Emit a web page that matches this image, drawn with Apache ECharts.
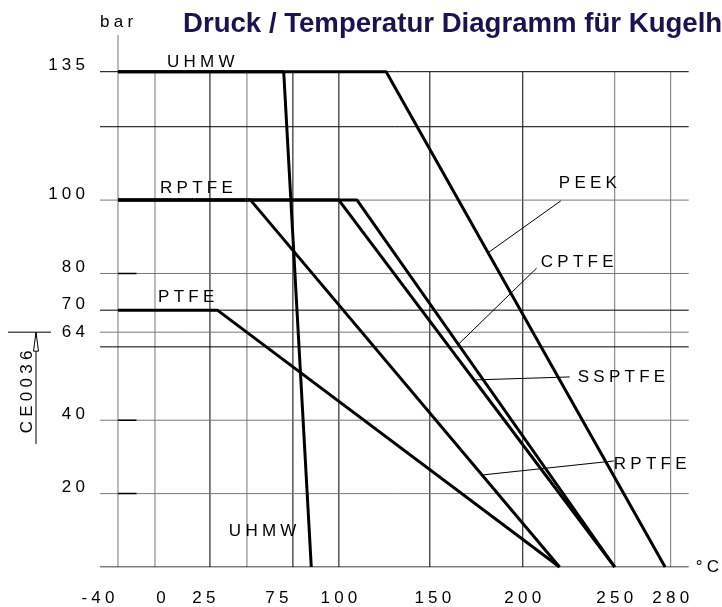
<!DOCTYPE html>
<html>
<head>
<meta charset="utf-8">
<script src="https://cdn.jsdelivr.net/npm/echarts@6/dist/echarts.min.js"></script>
<style>
  html, body { margin: 0; padding: 0; background: #fff; }
  #chart { width: 722px; height: 607px; }
</style>
</head>
<body>
<div id="chart"></div>
<script>
// pressure (bar) over temperature (°C)
const uhmw = [[-40, 135], [70, 135], [85, 0]];
const peek = [[-40, 135], [126, 135], [277, 0]];
const rptfe = [[-40, 100], [52, 100], [220, 0]];
const ssptfe = [[-40, 100], [100, 100], [250, 0]];
const cptfe = [[-40, 100], [110, 100], [250, 0]];
const ptfe = [[-40, 70], [30, 70], [220, 0]];

const xTicks = [-40, 0, 25, 75, 100, 150, 200, 250, 280];
const xGrid = [-40, 0, 25, 50, 75, 100, 150, 200, 250, 280];
const yTicks = [20, 40, 64, 70, 80, 100, 135];
const yGrid = [0, 20, 40, 60, 64, 70, 80, 100, 120, 135];

// the temperature axis of the original is not linear: piecewise scale
const tempKnots = [-40, 0, 25, 50, 75, 100, 150, 200, 250, 280];
const knotPos = [18, 55, 110, 147, 193, 239, 330, 423, 515, 571];
const X_MAX = 589;
const Y_MAX = 145;

function toU(t) {
    for (let i = 1; i < tempKnots.length; i++) {
        if (t <= tempKnots[i] || i === tempKnots.length - 1) {
            const f = (t - tempKnots[i - 1]) / (tempKnots[i] - tempKnots[i - 1]);
            return knotPos[i - 1] + f * (knotPos[i] - knotPos[i - 1]);
        }
    }
}

const FONT = 'Liberation Sans, Arial, sans-serif';
const spaced = s => s.split('').join('\u2005');

// label nudges, as in the drawing
const xLabelShift = [-20, 6, -6, -16, 0, 3, 0, 0, 0];
const grayX = [-40, 0, 50, 250, 280];
const grayY = [20, 40, 64, 80, 100];
const darkStub = [20, 40, 80];

// annotation layout, in data coordinates [°C, bar]
const notes = [
    { text: 'UHMW', at: [5.5, 137.6] },
    { text: 'RPTFE', at: [2.3, 103.3] },
    { text: 'PTFE', at: [1.4, 73.6] },
    { text: 'UHMW', at: [37.8, 9.8] },
    { text: 'PEEK', at: [219.6, 104.7] },
    { text: 'CPTFE', at: [209.8, 83.1] },
    { text: 'SSPTFE', at: [229.9, 51.8] },
    { text: 'RPTFE', at: [249.5, 28.1] }
];
const leaders = [
    [[181.2, 85.6], [220.7, 99.8]],
    [[165, 60.5], [207.6, 81.5]],
    [[174.7, 51], [225.5, 51.8]],
    [[178.5, 25.1], [249.5, 28.9]]
];

const chart = echarts.init(document.getElementById('chart'));

const xRich = {};
xLabelShift.forEach((d, i) => {
    xRich['s' + i] = {
        fontSize: 17, fontFamily: FONT, color: '#000',
        padding: d < 0 ? [0, -2 * d, 0, 0] : [0, 0, 0, 2 * d]
    };
});

const gridSeries = [];
xGrid.forEach(t => {
    gridSeries.push({
        type: 'line', silent: true, showSymbol: false, z: 1,
        data: [[toU(t), 0], [toU(t), t === -40 ? Y_MAX : 135]],
        lineStyle: { width: 1, color: grayX.includes(t) ? '#777' : '#000' }
    });
});
yGrid.forEach(v => {
    gridSeries.push({
        type: 'line', silent: true, showSymbol: false, z: 1,
        data: [[0, v], [X_MAX, v]],
        lineStyle: { width: 1, color: grayY.includes(v) ? '#777' : '#000' }
    });
});
darkStub.forEach(v => {
    gridSeries.push({
        type: 'line', silent: true, showSymbol: false, z: 2,
        data: [[toU(-40), v], [toU(-20), v]],
        lineStyle: { width: 1.5, color: '#000' }
    });
});

const curves = [uhmw, peek, rptfe, ssptfe, cptfe, ptfe].map(d => ({
    type: 'line',
    showSymbol: false,
    z: 3,
    data: d.map(p => [toU(p[0]), p[1]]),
    lineStyle: { width: 3, color: '#000' }
}));

chart.setOption({
    animation: false,
    title: {
        text: 'Druck / Temperatur Diagramm für Kugelhähne',
        left: 178, top: 5,
        textStyle: { fontSize: 27.6, fontWeight: 'bold', fontFamily: FONT, color: '#1c1250' }
    },
    grid: { left: 100, right: 33, top: 35, bottom: 40 },
    xAxis: {
        type: 'value', min: 0, max: X_MAX,
        name: '°\u2005C', nameLocation: 'end', nameGap: 7,
        nameTextStyle: { fontSize: 17, fontFamily: FONT, color: '#000', verticalAlign: 'middle' },
        axisLine: { show: false }, axisTick: { show: false }, splitLine: { show: false },
        axisLabel: {
            customValues: xTicks.map(toU),
            margin: 23,
            formatter: val => {
                const i = xTicks.findIndex(t => Math.abs(toU(t) - val) < 0.01);
                return '{s' + i + '|' + spaced(String(xTicks[i])) + '}';
            },
            rich: xRich
        }
    },
    yAxis: {
        type: 'value', min: 0, max: Y_MAX,
        name: spaced('bar'), nameLocation: 'end', nameGap: 4,
        nameTextStyle: { fontSize: 17, fontFamily: FONT, color: '#000', align: 'left', verticalAlign: 'bottom' },
        axisLine: { show: false }, axisTick: { show: false }, splitLine: { show: false },
        axisLabel: {
            customValues: yTicks,
            margin: 15,
            formatter: v => (v === 64 ? '{m|' : '{u|') + spaced(String(v)) + '}',
            rich: {
                u: { fontSize: 17, fontFamily: FONT, color: '#000', padding: [0, 0, 12, 0] },
                m: { fontSize: 17, fontFamily: FONT, color: '#000' }
            }
        }
    },
    series: gridSeries.concat(curves)
});

// annotations: curve names, leader lines and the CE mark
const P = (t, b) => chart.convertToPixel({ gridIndex: 0 }, [toU(t), b]);
const Py = b => chart.convertToPixel({ gridIndex: 0 }, [0, b])[1];

const graphics = [];
notes.forEach(n => {
    const p = P(n.at[0], n.at[1]);
    graphics.push({
        type: 'text', x: p[0], y: p[1], z: 10,
        style: {
            text: spaced(n.text), fill: '#000', font: '17px ' + FONT,
            textAlign: 'left', textVerticalAlign: 'middle'
        }
    });
});
leaders.forEach(l => {
    const a = P(l[0][0], l[0][1]);
    const b = P(l[1][0], l[1][1]);
    graphics.push({
        type: 'line', z: 10,
        shape: { x1: a[0], y1: a[1], x2: b[0], y2: b[1] },
        style: { stroke: '#000', lineWidth: 1 }
    });
});

const ceY = Py(64);
const ceBottom = Py(33.5);
const ceMid = Py(47.7);
graphics.push(
    { type: 'line', shape: { x1: 8, y1: ceY, x2: 51, y2: ceY }, style: { stroke: '#000', lineWidth: 1 } },
    { type: 'line', shape: { x1: 36, y1: ceY, x2: 36, y2: ceBottom }, style: { stroke: '#000', lineWidth: 1 } },
    {
        type: 'polygon',
        shape: { points: [[36, ceY], [33.5, ceY + 19], [38.5, ceY + 19]] },
        style: { fill: '#fff', stroke: '#000', lineWidth: 1 }
    },
    {
        type: 'text', x: 27, y: ceMid, rotation: Math.PI / 2,
        style: {
            text: spaced('CE0036'), fill: '#000', font: '17px ' + FONT,
            textAlign: 'center', textVerticalAlign: 'middle'
        }
    }
);

chart.setOption({ graphic: graphics });
</script>
</body>
</html>
